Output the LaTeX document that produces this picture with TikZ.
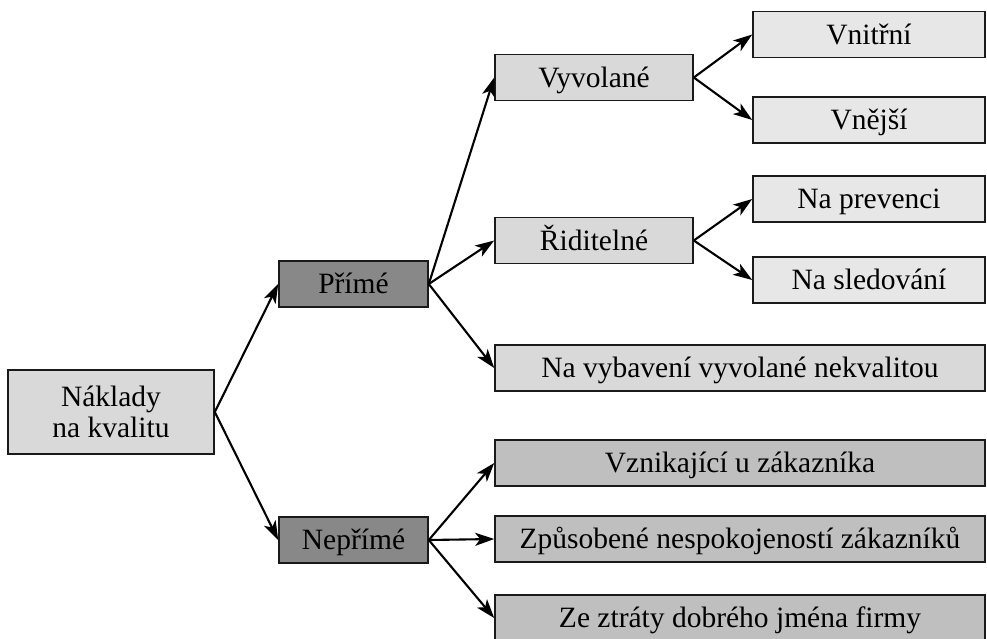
\documentclass[tikz,border=0pt]{standalone}
\usepackage{fontspec}
\setmainfont{Liberation Serif}
\usetikzlibrary{arrows.meta}
\definecolor{cmid}{HTML}{D9D9D9}
\definecolor{clight}{HTML}{E7E7E7}
\definecolor{cdark}{HTML}{888888}
\definecolor{cgray}{HTML}{BFBFBF}
\definecolor{cline}{HTML}{1A1A1A}
\tikzset{
  box/.style={draw=cline, line width=1.6pt, inner sep=0pt, anchor=center,
    font=\fontsize{29.5}{31}\selectfont, text height=24pt, text depth=5pt},
  conn/.style={line width=2.1pt, -{Stealth[length=19pt,width=13pt,inset=5pt]}}
}
\begin{document}
\begin{tikzpicture}[x=1pt,y=-1pt]
\useasboundingbox (0,0) rectangle (987,638);
\node[box, fill=cmid, minimum width=206pt, minimum height=84pt, align=center, text height=, text depth=] (nak) at (111,412) {Náklady\\na kvalitu};
\node[box, fill=cdark, minimum width=149pt, minimum height=46pt] (prime) at (353.5,284) {Přímé};
\node[box, fill=cdark, minimum width=149pt, minimum height=46pt] (neprime) at (353.5,540) {Nepřímé};
\node[box, fill=cmid, minimum width=198pt, minimum height=46pt] (vyv) at (594,77.5) {Vyvolané};
\node[box, fill=cmid, minimum width=198pt, minimum height=46pt] (rid) at (594,240.5) {Řiditelné};
\node[box, fill=clight, minimum width=232pt, minimum height=46pt] (vnit) at (869,34.5) {Vnitřní};
\node[box, fill=clight, minimum width=232pt, minimum height=46pt] (vnej) at (869,120) {Vnější};
\node[box, fill=clight, minimum width=232pt, minimum height=46pt] (prev) at (869,199) {Na prevenci};
\node[box, fill=clight, minimum width=232pt, minimum height=46pt] (sled) at (869,280) {Na sledování};
\node[box, fill=cmid, minimum width=490pt, minimum height=46pt] (vyb) at (740,368) {Na vybavení vyvolané nekvalitou};
\node[box, fill=cgray, minimum width=490pt, minimum height=46pt] (vzn) at (740,463) {Vznikající u zákazníka};
\node[box, fill=cgray, minimum width=490pt, minimum height=46pt] (zpu) at (740,539) {Způsobené nespokojeností zákazníků};
\node[box, fill=cgray, minimum width=490pt, minimum height=46pt] (zez) at (740,618) {Ze ztráty dobrého jména firmy};
\draw[conn] (nak.east) -- (prime.west);
\draw[conn] (nak.east) -- (neprime.west);
\draw[conn] (prime.east) -- (vyv.west);
\draw[conn] (prime.east) -- (rid.west);
\draw[conn] (prime.east) -- (vyb.west);
\draw[conn] (neprime.east) -- (vzn.west);
\draw[conn] (neprime.east) -- (zpu.west);
\draw[conn] (neprime.east) -- (zez.west);
\draw[conn] (vyv.east) -- (vnit.west);
\draw[conn] (vyv.east) -- (vnej.west);
\draw[conn] (rid.east) -- (prev.west);
\draw[conn] (rid.east) -- (sled.west);
\end{tikzpicture}
\end{document}
